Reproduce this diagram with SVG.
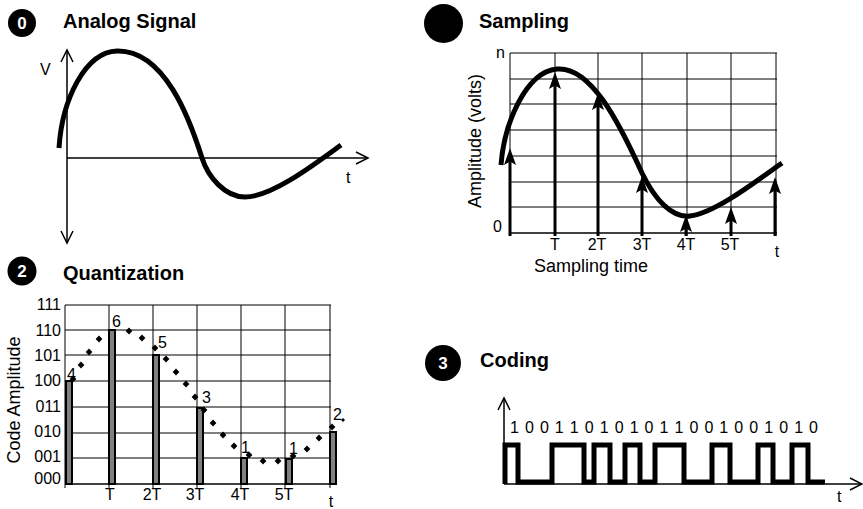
<svg xmlns="http://www.w3.org/2000/svg" xmlns:xlink="http://www.w3.org/1999/xlink" width="863" height="509" viewBox="0 0 863 509">
<style>
text{font-family:"Liberation Sans",Arial,sans-serif;fill:#000}
.title{font-size:20px;font-weight:bold}
.badge{fill:#000}
.bnum{font-size:17px;font-weight:bold;fill:#fff;text-anchor:middle}
.lbl{font-size:16px}
.lblc{font-size:16px;text-anchor:middle}
.ylbl{font-size:16px;text-anchor:end}
.grid{stroke:#000;stroke-width:1;fill:none}
.axis{stroke:#000;stroke-width:1.5;fill:none}
.curve{stroke:#000;stroke-width:5;fill:none}
.samp{stroke:#000;stroke-width:3;fill:none;marker-end:url(#solid)}
.bar{fill:#808080;stroke:#000;stroke-width:2}
.wave{stroke:#000;stroke-width:5;fill:none;stroke-linejoin:miter}
</style>
<defs>
<marker id="open" markerUnits="userSpaceOnUse" markerWidth="14" markerHeight="14" refX="12" refY="6" orient="auto-start-reverse" overflow="visible">
<path d="M0,0 L12,6 L0,12" fill="none" stroke="#000" stroke-width="1.5"/>
</marker>
<marker id="solid" markerUnits="userSpaceOnUse" markerWidth="18" markerHeight="14" refX="6" refY="6" orient="auto" overflow="visible">
<path d="M0,0 L17,6 L0,12 L3.5,6 z" fill="#000"/>
</marker>
<path id="dia" d="M0,-3.4 L3.4,0 L0,3.4 L-3.4,0 z" fill="#000"/>
<path id="diasm" d="M0,-2 L2,0 L0,2 L-2,0 z" fill="#000"/>
</defs>

<g id="panel-analog">
<circle class="badge" cx="22" cy="23" r="14"/>
<text class="bnum" x="22" y="29">0</text>
<text class="title" x="63" y="28">Analog Signal</text>
<line class="axis" x1="67" y1="50" x2="67" y2="243" marker-start="url(#open)" marker-end="url(#open)"/>
<line class="axis" x1="67" y1="158" x2="368" y2="158" marker-end="url(#open)"/>
<text class="lbl" x="40" y="75">V</text>
<text class="lbl" x="346" y="183">t</text>
<path class="curve" d="M59,148 C62,100 85,52 117,51 C165,50 190,120 202,158 C208,177 225,197 245,197 C270,197 310,168 341,145"/>
</g>

<g id="panel-sampling">
<circle class="badge" cx="443.5" cy="23.5" r="19.5"/>
<text class="title" x="479" y="28">Sampling</text>
<g class="grid">
<line x1="510" y1="53" x2="777" y2="53"/>
<line x1="510" y1="79" x2="777" y2="79"/>
<line x1="510" y1="104" x2="777" y2="104"/>
<line x1="510" y1="130" x2="777" y2="130"/>
<line x1="510" y1="156" x2="777" y2="156"/>
<line x1="510" y1="182" x2="777" y2="182"/>
<line x1="510" y1="207" x2="777" y2="207"/>
<line x1="510" y1="53" x2="510" y2="236"/>
<line x1="555" y1="53" x2="555" y2="236"/>
<line x1="598" y1="53" x2="598" y2="236"/>
<line x1="642" y1="53" x2="642" y2="236"/>
<line x1="687" y1="53" x2="687" y2="236"/>
<line x1="731" y1="53" x2="731" y2="236"/>
<line x1="776" y1="53" x2="776" y2="236"/>
</g>
<line class="axis" x1="510" y1="233" x2="777" y2="233"/>
<path class="curve" d="M501,165 C504,125 525,72 557,69 C590,66 618,120 642,173 C655,200 672,218 690,216 C715,213 755,182 782,163"/>
<g id="sample-arrows">
<line class="samp" x1="510" y1="236" x2="510" y2="159"/>
<line class="samp" x1="555" y1="236" x2="555" y2="83"/>
<line class="samp" x1="598" y1="236" x2="598" y2="104"/>
<line class="samp" x1="642" y1="236" x2="642" y2="187"/>
<line class="samp" x1="686" y1="236" x2="686" y2="226"/>
<line class="samp" x1="731" y1="236" x2="731" y2="218"/>
<line class="samp" x1="775" y1="236" x2="775" y2="188"/>
</g>
<text class="lbl" x="496" y="58">n</text>
<text class="lbl" x="493" y="232">0</text>
<text class="lblc" transform="translate(481,141) rotate(-90)" style="font-size:18px">Amplitude (volts)</text>
<text class="lblc" x="555" y="250">T</text>
<text class="lblc" x="597" y="250">2T</text>
<text class="lblc" x="642" y="250">3T</text>
<text class="lblc" x="686" y="250">4T</text>
<text class="lblc" x="730" y="250">5T</text>
<text class="lblc" x="777" y="257">t</text>
<text class="lblc" x="591" y="272" style="font-size:18px">Sampling time</text>
</g>

<g id="panel-quantization">
<circle class="badge" cx="22" cy="271" r="14.5"/>
<text class="bnum" x="22" y="277">2</text>
<text class="title" x="63" y="280">Quantization</text>
<g class="grid">
<line x1="65" y1="305" x2="331" y2="305"/>
<line x1="65" y1="330" x2="331" y2="330"/>
<line x1="65" y1="355" x2="331" y2="355"/>
<line x1="65" y1="381" x2="331" y2="381"/>
<line x1="65" y1="407" x2="331" y2="407"/>
<line x1="65" y1="433" x2="331" y2="433"/>
<line x1="65" y1="458" x2="331" y2="458"/>
<line x1="65" y1="305" x2="65" y2="488"/>
<line x1="109" y1="305" x2="109" y2="488"/>
<line x1="153" y1="305" x2="153" y2="488"/>
<line x1="197" y1="305" x2="197" y2="488"/>
<line x1="241" y1="305" x2="241" y2="488"/>
<line x1="285" y1="305" x2="285" y2="488"/>
<line x1="330" y1="305" x2="330" y2="488"/>
</g>
<line class="axis" x1="65" y1="484" x2="331" y2="484"/>
<text class="ylbl" x="61" y="310">111</text>
<text class="ylbl" x="61" y="336">110</text>
<text class="ylbl" x="61" y="361">101</text>
<text class="ylbl" x="61" y="386">100</text>
<text class="ylbl" x="61" y="412">011</text>
<text class="ylbl" x="61" y="437">010</text>
<text class="ylbl" x="61" y="462">001</text>
<text class="ylbl" x="61" y="484">000</text>
<text class="lblc" transform="translate(20,400) rotate(-90)" style="font-size:18px">Code Amplitude</text>
<rect class="bar" x="66" y="381" width="6" height="103"/>
<rect class="bar" x="109" y="330" width="6" height="154"/>
<rect class="bar" x="153" y="355" width="6" height="129"/>
<rect class="bar" x="197" y="408" width="6" height="76"/>
<rect class="bar" x="241" y="458" width="6" height="26"/>
<rect class="bar" x="286" y="459" width="6" height="25"/>
<rect class="bar" x="330" y="432" width="6" height="52"/>
<g id="dots">
<use href="#dia" x="73" y="379"/>
<use href="#dia" x="81" y="365"/>
<use href="#dia" x="89" y="352"/>
<use href="#dia" x="99" y="339"/>
<use href="#dia" x="129" y="331"/>
<use href="#dia" x="142" y="338"/>
<use href="#dia" x="155" y="348"/>
<use href="#dia" x="166" y="359"/>
<use href="#dia" x="176" y="372"/>
<use href="#dia" x="186" y="384"/>
<use href="#dia" x="195" y="397"/>
<use href="#dia" x="204" y="410"/>
<use href="#dia" x="213" y="423"/>
<use href="#dia" x="223" y="435"/>
<use href="#dia" x="234" y="446"/>
<use href="#dia" x="249" y="455"/>
<use href="#dia" x="263" y="461"/>
<use href="#dia" x="278" y="461"/>
<use href="#dia" x="293" y="456"/>
<use href="#dia" x="307" y="449"/>
<use href="#dia" x="319" y="438"/>
<use href="#dia" x="332" y="427"/>
<use href="#diasm" x="343" y="420"/>
</g>
<text class="lbl" x="67" y="380">4</text>
<text class="lbl" x="112" y="327">6</text>
<text class="lbl" x="158" y="348">5</text>
<text class="lbl" x="202" y="403">3</text>
<text class="lbl" x="241" y="453">1</text>
<text class="lbl" x="289" y="454">1</text>
<text class="lbl" x="333" y="420">2</text>
<text class="lblc" x="110" y="500">T</text>
<text class="lblc" x="152" y="500">2T</text>
<text class="lblc" x="195" y="500">3T</text>
<text class="lblc" x="240" y="500">4T</text>
<text class="lblc" x="284" y="500">5T</text>
<text class="lblc" x="331" y="507">t</text>
</g>

<g id="panel-coding">
<circle class="badge" cx="443" cy="363" r="18"/>
<text class="bnum" x="443" y="369">3</text>
<text class="title" x="480" y="367">Coding</text>
<line class="axis" x1="504" y1="484" x2="504" y2="398" marker-end="url(#open)"/>
<line class="axis" x1="504" y1="484" x2="862" y2="484" marker-end="url(#open)"/>
<text class="lbl" x="510" y="433" textLength="308" lengthAdjust="spacing">1 0 0 1 1 0 1 0 1 0 1 1 0 0 1 0 0 1 0 1 0</text>
<path class="wave" d="M505,484 V445 H518 V482 H552 V445 H584 V482 H594 V445 H610 V482 H625 V445 H640 V482 H655 V445 H684 V482 H712 V445 H730 V482 H758 V445 H773 V482 H792 V445 H808 V482 H825"/>
<text class="lbl" x="837" y="502">t</text>
</g>
</svg>
